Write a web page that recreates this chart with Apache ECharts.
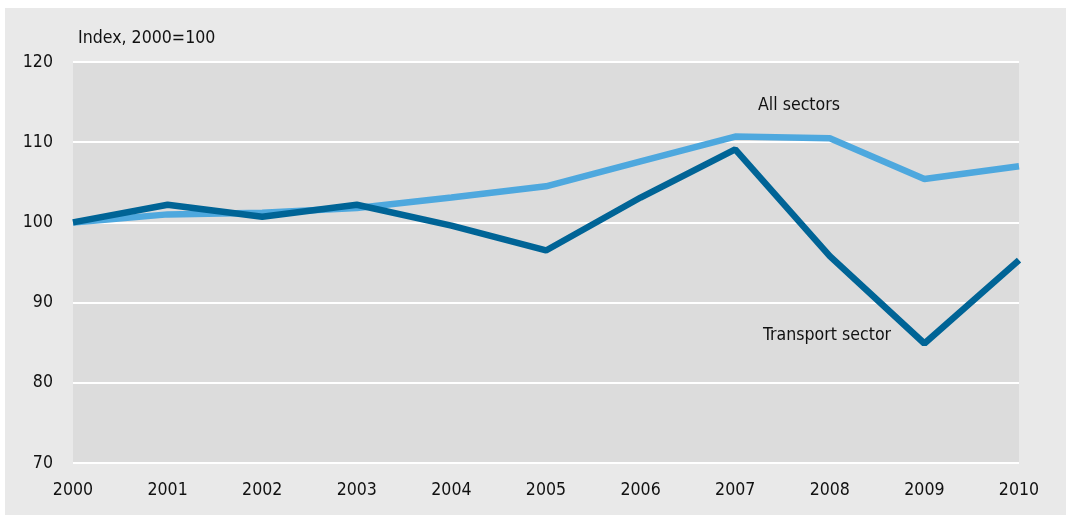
<!DOCTYPE html>
<html>
<head>
<meta charset="utf-8">
<script src="https://cdn.jsdelivr.net/npm/echarts@6/dist/echarts.min.js"></script>
<style>
  html, body { margin: 0; padding: 0; background: #fff; }
  #wrap { position: absolute; left: 5px; top: 8px; width: 1061px; height: 507px; background: #e9e9e9; }
  #chart { width: 1061px; height: 507px; }
</style>
</head>
<body>
<div id="wrap"><div id="chart"></div></div>
<script>
const years = ["2000", "2001", "2002", "2003", "2004", "2005", "2006", "2007", "2008", "2009", "2010"];
const allSectors = [100, 101.0, 101.2, 101.8, 103.1, 104.5, 107.6, 110.7, 110.5, 105.4, 107.0];
const transportSector = [100, 102.2, 100.7, 102.2, 99.6, 96.5, 103.1, 109.1, 95.8, 84.9, 95.3];

const font = '"DejaVu Sans Condensed", "DejaVu Sans", sans-serif';
const fs = 17.6;

const chart = echarts.init(document.getElementById('chart'));
chart.setOption({
    animation: false,
    textStyle: { fontFamily: font },
    grid: {
        left: 68, right: 47, top: 54, bottom: 52,
        show: true, backgroundColor: '#dcdcdc', borderWidth: 0
    },
    xAxis: {
        type: 'category',
        data: years,
        boundaryGap: false,
        axisLine: { show: false },
        axisTick: { show: false },
        axisLabel: { color: '#111', fontSize: fs, fontFamily: font, margin: 18 },
        splitLine: { show: false }
    },
    yAxis: {
        type: 'value',
        min: 70, max: 120, interval: 10,
        axisLine: { show: false },
        axisTick: { show: false },
        axisLabel: { color: '#111', fontSize: fs, fontFamily: font, margin: 20 },
        splitLine: { lineStyle: { color: '#ffffff', width: 2 } }
    },
    graphic: [
        { type: 'text', left: 73, top: 21, style: { text: 'Index, 2000=100', fill: '#111', font: fs + 'px ' + font } },
        { type: 'text', left: 753, top: 88, style: { text: 'All sectors', fill: '#111', font: fs + 'px ' + font } },
        { type: 'text', left: 758, top: 318, style: { text: 'Transport sector', fill: '#111', font: fs + 'px ' + font } }
    ],
    series: [
        {
            name: 'All sectors', type: 'line', data: allSectors,
            symbol: 'none', lineStyle: { color: '#4ea8de', width: 6.5 }
        },
        {
            name: 'Transport sector', type: 'line', data: transportSector,
            symbol: 'none', lineStyle: { color: '#006496', width: 6.5 }
        }
    ]
});
</script>
</body>
</html>
